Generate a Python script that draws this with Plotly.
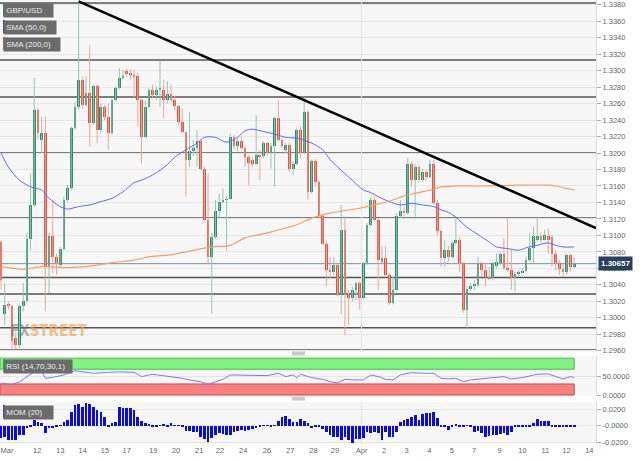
import plotly.graph_objects as go

# ---------------- data (GBP/USD 4h candles) ----------------
opens = [1.3092,1.3005,1.3017,1.3014,1.2975,1.2967,1.3014,1.3020,1.3096,
         1.3137,1.3252,1.3216,1.3224,1.3062,1.3099,1.3074,1.3064,1.3084,1.3143,
         1.3157,1.3230,1.3256,1.3289,1.3258,1.3273,1.3236,1.3281,1.3228,1.3256,
         1.3244,1.3224,1.3264,1.3279,1.3291,1.3299,1.3297,1.3295,1.3293,1.3264,
         1.3220,1.3256,1.3277,1.3270,1.3277,1.3277,1.3264,1.3272,1.3264,1.3257,
         1.3238,1.3225,1.3192,1.3202,1.3206,1.3214,1.3181,1.3119,1.3074,1.3098,
         1.3130,1.3140,1.3143,1.3144,1.3220,1.3208,1.3215,1.3206,1.3195,1.3192,
         1.3187,1.3198,1.3196,1.3212,1.3200,1.3208,1.3242,1.3216,1.3204,1.3210,
         1.3180,1.3187,1.3228,1.3200,1.3250,1.3153,1.3190,1.3165,1.3123,1.3090,
         1.3058,1.3055,1.3064,1.3028,1.3107,1.3028,1.3024,1.3034,1.3042,1.3024,
         1.3066,1.3113,1.3143,1.3119,1.3068,1.3072,1.3052,1.3018,1.3034,1.3123,
         1.3130,1.3127,1.3187,1.3167,1.3183,1.3167,1.3177,1.3171,1.3187,1.3139,1.3105,
         1.3072,1.3082,1.3074,1.3091,1.3095,1.3066,1.3010,1.3035,1.3039,1.3040,
         1.3066,1.3058,1.3050,1.3048,1.3063,1.3066,1.3078,1.3061,1.3058,1.3048,
         1.3053,1.3055,1.3057,1.3070,1.3085,1.3094,1.3099,1.3095,1.3099,1.3098,
         1.3078,1.3066,1.3059,1.3056,1.3076,1.3062]
highs = [1.3094,1.3042,1.3020,1.3016,1.2983,1.3016,1.3042,1.3103,1.3175,
         1.3291,1.3254,1.3244,1.3244,1.3103,1.3143,1.3078,1.3086,1.3147,1.3161,
         1.3232,1.3262,1.3384,1.3293,1.3293,1.3331,1.3283,1.3283,1.3260,1.3258,
         1.3260,1.3266,1.3281,1.3303,1.3301,1.3302,1.3301,1.3301,1.3297,1.3266,
         1.3264,1.3279,1.3283,1.3281,1.3312,1.3289,1.3287,1.3283,1.3270,1.3258,
         1.3254,1.3226,1.3250,1.3216,1.3228,1.3216,1.3183,1.3175,1.3103,1.3143,
         1.3151,1.3157,1.3147,1.3224,1.3222,1.3218,1.3220,1.3208,1.3198,1.3196,
         1.3246,1.3204,1.3214,1.3214,1.3212,1.3244,1.3264,1.3218,1.3212,1.3212,
         1.3190,1.3230,1.3232,1.3268,1.3252,1.3192,1.3192,1.3167,1.3125,1.3093,
         1.3074,1.3074,1.3066,1.3137,1.3123,1.3034,1.3038,1.3044,1.3044,1.3068,
         1.3115,1.3147,1.3147,1.3121,1.3087,1.3087,1.3054,1.3050,1.3127,1.3143,
         1.3135,1.3194,1.3190,1.3187,1.3185,1.3181,1.3179,1.3192,1.3192,1.3143,1.3107,
         1.3094,1.3087,1.3093,1.3123,1.3098,1.3068,1.3038,1.3042,1.3046,1.3074,
         1.3068,1.3066,1.3062,1.3068,1.3078,1.3080,1.3097,1.3123,1.3082,1.3056,
         1.3058,1.3060,1.3074,1.3103,1.3111,1.3123,1.3103,1.3107,1.3109,1.3101,
         1.3082,1.3070,1.3066,1.3078,1.3078,1.3074]
lows = [1.3034,1.2991,1.3010,1.2963,1.2962,1.2963,1.3008,1.3018,1.3082,
        1.3135,1.3216,1.3200,1.3008,1.3030,1.3054,1.3052,1.3062,1.3082,1.3141,
        1.3155,1.3228,1.3252,1.3254,1.3256,1.3208,1.3234,1.3212,1.3224,1.3240,
        1.3204,1.3222,1.3262,1.3277,1.3289,1.3292,1.3289,1.3268,1.3232,1.3187,
        1.3218,1.3254,1.3266,1.3264,1.3256,1.3242,1.3260,1.3262,1.3252,1.3234,
        1.3224,1.3147,1.3183,1.3196,1.3183,1.3179,1.3117,1.3066,1.3005,1.3096,
        1.3121,1.3139,1.3082,1.3143,1.3204,1.3202,1.3204,1.3183,1.3161,1.3183,
        1.3185,1.3167,1.3194,1.3196,1.3181,1.3159,1.3214,1.3206,1.3200,1.3177,
        1.3173,1.3185,1.3194,1.3198,1.3143,1.3151,1.3159,1.3121,1.3089,1.3038,
        1.3048,1.3052,1.3026,1.3004,1.2979,1.2991,1.3020,1.3022,1.3010,1.3022,
        1.3064,1.3111,1.3117,1.3034,1.3066,1.3050,1.3016,1.3016,1.3032,1.3121,
        1.3123,1.3125,1.3159,1.3123,1.3165,1.3165,1.3167,1.3169,1.3137,1.3100,1.3062,
        1.3062,1.3068,1.3072,1.3089,1.3056,1.3006,1.2987,1.3032,1.3034,1.3038,
        1.3050,1.3038,1.3046,1.3046,1.3060,1.3064,1.3058,1.3056,1.3034,1.3032,
        1.3050,1.3054,1.3056,1.3068,1.3066,1.3093,1.3091,1.3094,1.3078,1.3062,
        1.3058,1.3052,1.3050,1.3052,1.3056,1.3060]
closes = [1.3046,1.3016,1.3014,1.2972,1.2967,1.3014,1.3020,1.3096,1.3137,
          1.3252,1.3224,1.3224,1.3062,1.3099,1.3074,1.3066,1.3084,1.3143,1.3157,
          1.3230,1.3256,1.3289,1.3258,1.3273,1.3236,1.3281,1.3228,1.3256,1.3244,
          1.3224,1.3264,1.3279,1.3291,1.3294,1.3296,1.3295,1.3293,1.3264,1.3220,
          1.3256,1.3277,1.3270,1.3277,1.3279,1.3264,1.3272,1.3264,1.3257,1.3238,
          1.3225,1.3192,1.3202,1.3206,1.3214,1.3181,1.3119,1.3074,1.3098,1.3130,
          1.3140,1.3143,1.3144,1.3220,1.3208,1.3215,1.3206,1.3195,1.3188,1.3187,
          1.3198,1.3196,1.3212,1.3200,1.3208,1.3242,1.3216,1.3208,1.3210,1.3181,
          1.3187,1.3228,1.3200,1.3250,1.3153,1.3190,1.3165,1.3123,1.3090,1.3058,
          1.3055,1.3064,1.3028,1.3107,1.3028,1.3024,1.3034,1.3042,1.3024,1.3066,
          1.3113,1.3143,1.3119,1.3070,1.3072,1.3052,1.3018,1.3034,1.3123,1.3130,
          1.3127,1.3187,1.3167,1.3183,1.3167,1.3177,1.3171,1.3187,1.3139,1.3105,1.3072,
          1.3082,1.3074,1.3091,1.3095,1.3066,1.3010,1.3035,1.3039,1.3040,1.3066,
          1.3058,1.3050,1.3048,1.3066,1.3068,1.3078,1.3060,1.3058,1.3048,1.3053,
          1.3056,1.3057,1.3070,1.3085,1.3099,1.3099,1.3094,1.3100,1.3094,1.3078,
          1.3066,1.3059,1.3056,1.3076,1.3062,1.30657]

# SMA readings (candle index, value)
sma50_idx = [0,2,5,8,11,13,16,18,21,24,27,30,33,36,38,40,42,45,47,50,53,55,58,61,64,
             66,68,71,74,77,80,84,87,89,92,95,98,100,102,105,108,111,114,117,119,121,
             123,126,129,132,134,137,140,142,145,148,150,152,155]
sma50_val = [1.3200,1.3183,1.3167,1.3159,1.3155,1.3145,1.3135,1.3132,1.3135,1.3137,
             1.3141,1.3145,1.3153,1.3164,1.3167,1.3171,1.3176,1.3186,1.3195,1.3204,
             1.3212,1.3219,1.3219,1.3213,1.3219,1.3227,1.3229,1.3226,1.3223,1.3219,
             1.3218,1.3212,1.3204,1.3192,1.3179,1.3167,1.3155,1.3152,1.3147,1.3141,
             1.3137,1.3139,1.3137,1.3135,1.3131,1.3128,1.3122,1.3110,1.3101,1.3092,
             1.3086,1.3084,1.3082,1.3085,1.3088,1.3091,1.3088,1.3086,1.3086]
sma200_idx = [0,2,6,11,18,23,30,36,40,45,50,57,62,66,72,77,80,84,89,97,101,106,109,
              113,117,119,123,131,140,148,150,153,155]
sma200_val = [1.3062,1.3061,1.3059,1.3062,1.3061,1.3062,1.3067,1.3070,1.3074,1.3076,
              1.3080,1.3086,1.3088,1.3097,1.3103,1.3109,1.3113,1.3121,1.3127,1.3133,
              1.3137,1.3143,1.3148,1.3152,1.3156,1.3159,1.3160,1.3160,1.3161,1.3161,
              1.3160,1.3157,1.3155]

# RSI (14,70,30,1) readings
rsi_idx = [0,3,5,7,9,10,11,12,14,17,20,22,25,29,32,36,38,41,45,49,51,54,56,58,60,62,
           65,69,72,75,77,79,80,81,83,84,87,89,91,92,93,95,98,100,102,104,106,108,109,
           111,114,117,119,121,123,125,127,129,132,136,138,141,145,148,150,152,154,155]
rsi_val = [32,28,36,50,63.6,70,63.6,45.4,48,54.5,66,63.6,59,61.7,62.7,61.7,50,56.3,51.8,
           45.4,40.9,36,29,36,42.7,54.5,53.6,51.8,52.7,59,50,54.5,47.2,56.3,50,47.2,42.7,
           36,33,39,42.7,41,41,54.5,50,42.7,41,54.5,56.3,60.8,59,59,45.4,43.6,45.4,36,41,
           42.7,45.4,50,43.6,47.2,56.3,57.2,50,43.6,50,47.2]

# MOM (20) per candle
mom = [-0.0156,-0.0135,-0.0176,-0.0176,-0.0176,-0.0115,-0.0115,-0.0034,-0.0022,0.0067,
       0.0046,0.0034,-0.0095,-0.0034,-0.0034,-0.0006,0.0002,0.0046,0.0067,0.0168,
       0.0248,0.0257,0.0228,0.0269,0.0257,0.0228,0.0188,0.0168,0.0107,-0.0022,
       0.0026,0.0046,0.0228,0.0208,0.0216,0.0208,0.0188,0.0107,0.0055,0.0026,
       0.0018,-0.0006,-0.0006,0.0002,0.0018,-0.0006,0.0026,0.0002,-0.0002,-0.0006,
       -0.0063,-0.0063,-0.0075,-0.0075,-0.0135,-0.0168,-0.0196,-0.0156,-0.0115,-0.0095,
       -0.0103,-0.0115,-0.0115,-0.0075,-0.0063,-0.0055,-0.0063,-0.0055,-0.0042,-0.0026,
       -0.0006,-0.0002,0.0002,-0.0006,-0.0002,0.0055,0.0099,0.0115,0.0075,0.0046,
       0.0046,0.0075,0.0055,0.0026,-0.0034,-0.0022,-0.0022,-0.0046,-0.0075,-0.0115,
       -0.0135,-0.0135,-0.0176,-0.0143,-0.0176,-0.0208,-0.0168,-0.0168,-0.0156,-0.0075,
       -0.0087,-0.0075,-0.0087,-0.0176,-0.0075,-0.0135,-0.0135,-0.0075,0.0046,0.0067,
       0.0075,0.0107,0.0127,0.0067,0.0139,0.0156,0.0147,0.0164,0.0087,-0.0006,
       -0.0022,-0.0055,-0.0022,0.0018,-0.0006,-0.0022,0.0002,-0.0006,-0.0075,-0.0063,
       -0.0095,-0.0135,-0.0127,-0.0115,-0.0111,-0.0107,-0.0095,-0.0115,-0.0075,-0.0022,
       -0.0014,-0.0018,-0.0014,-0.0010,0.0034,0.0075,0.0059,0.0059,0.0055,-0.0006,
       -0.0006,-0.0006,-0.0006,-0.0006,-0.0006,-0.0010]

# support / resistance levels and trend line
levels = [1.3382, 1.3313, 1.3268, 1.3200, 1.3121, 1.3049, 1.3029, 1.2988, 1.2961]
trend_idx = [21, 160.9]
trend_val = [1.3384, 1.3109]
last_price = 1.30657

# date labels (candle index where each label sits)
tick_labels = ["Mar","12","13","14","15","17","19","20","21","22","24","26","27","28",
               "29","Apr","2","3","4","5","7","9","10","11","12","14"]
tick_idx = [1.6,9.8,16.0,22.1,28.1,34.0,41.2,47.3,53.6,59.2,65.5,71.9,78.2,84.5,
            90.3,97.5,103.6,109.7,115.8,121.9,127.9,134.8,141.0,147.2,152.9,159.1]

# ---------------- figure ----------------
N = len(closes)
idx = list(range(N))
highs = [max(h, o, c) for h, o, c in zip(highs, opens, closes)]
lows = [min(l, o, c) for l, o, c in zip(lows, opens, closes)]

UP, UP_W = "#2e8b6c", "#93c6b2"
DN, DN_W = "#e0553d", "#efa596"
FONT = "Liberation Sans"
W, H_PLOT = 596.0, 444.0

fig = go.Figure()

# wicks
for up in (True, False):
    xs, ys = [], []
    for i in idx:
        if (closes[i] >= opens[i]) == up:
            xs += [i, i, None]
            ys += [lows[i], highs[i], None]
    fig.add_trace(go.Scatter(x=xs, y=ys, mode="lines", line=dict(color=UP_W if up else DN_W, width=1),
                             hoverinfo="skip", yaxis="y"))

# bodies
body_base = [min(o, c) for o, c in zip(opens, closes)]
body_h = [max(abs(c - o), 0.00005) for o, c in zip(opens, closes)]
body_col = [UP if c >= o else DN for o, c in zip(opens, closes)]
fig.add_trace(go.Bar(x=idx, y=body_h, base=body_base, marker=dict(color=body_col, line_width=0),
                     width=0.74, yaxis="y"))

# moving averages
fig.add_trace(go.Scatter(x=sma50_idx, y=sma50_val, mode="lines",
                         line=dict(color="#5a6cf5", width=1, shape="spline", smoothing=0.8), yaxis="y"))
fig.add_trace(go.Scatter(x=sma200_idx, y=sma200_val, mode="lines",
                         line=dict(color="#f0a064", width=1.2, shape="spline", smoothing=0.8), yaxis="y"))

# trend line
fig.add_trace(go.Scatter(x=trend_idx, y=trend_val, mode="lines", line=dict(color="black", width=2.5), yaxis="y"))

# RSI
fig.add_trace(go.Scatter(x=rsi_idx, y=rsi_val, mode="lines", line=dict(color="#6f80f5", width=1), yaxis="y2"))

# MOM
fig.add_trace(go.Bar(x=idx, y=mom, marker=dict(color="#0a0af0", line_width=0), width=0.72, yaxis="y3"))

shapes = []
for lv in levels:
    shapes.append(dict(type="line", xref="x domain", yref="y", x0=0, x1=1, y0=lv, y1=lv,
                       line=dict(color="#555555", width=1.5), layer="below"))
shapes.append(dict(type="line", xref="x domain", yref="y", x0=0, x1=1, y0=last_price, y1=last_price,
                   line=dict(color="#7d8cab", width=1), layer="below"))
for yr in ("y domain", "y3 domain"):
    shapes.append(dict(type="line", xref="x", yref=yr, x0=97.5, x1=97.5, y0=0, y1=1,
                       line=dict(color="#e2e2e2", width=1), layer="below"))
shapes.append(dict(type="rect", xref="x", yref="y2", x0=-0.27, x1=N - 1, y0=70, y1=100,
                   fillcolor="#80f27e", line=dict(color="#4fb84d", width=1), layer="below"))
shapes.append(dict(type="rect", xref="x", yref="y2", x0=-0.27, x1=N - 1, y0=0, y1=30,
                   fillcolor="#fa8080", line=dict(color="#b85050", width=1), layer="below"))
for py in (353.5, 398.5):
    shapes.append(dict(type="rect", xref="paper", yref="paper", x0=292 / W, x1=305 / W,
                       y0=1 - (py + 2) / H_PLOT, y1=1 - (py - 2) / H_PLOT,
                       fillcolor="#c9c9c9", line_width=0))

annotations = []


def label(px, py, text, w, stripe):
    annotations.append(dict(xref="paper", yref="paper", x=px / W, y=1 - py / H_PLOT,
                            xanchor="left", yanchor="top", text=text, showarrow=False,
                            bgcolor="#6b6b6b", font=dict(family=FONT, size=8, color="#ececec"),
                            width=w, height=13, align="left", borderpad=0))
    shapes.append(dict(type="rect", xref="paper", yref="paper", x0=px / W, x1=(px + 2) / W,
                       y0=1 - (py + 13) / H_PLOT, y1=1 - py / H_PLOT, fillcolor=stripe, line_width=0))


label(3, 3, " GBP/USD", 49, "#2e8b6c")
label(3, 20, " SMA (50,0)", 52, "#2233ee")
label(3, 37, " SMA (200,0)", 56, "#e06a2a")
label(3, 359, " RSI (14,70,30,1)", 68, "#33cc33")
label(3, 405, " MOM (20)", 49, "#2233ee")

# watermark
annotations.append(dict(xref="paper", yref="paper", x=8 / W, y=1 - 320 / H_PLOT, xanchor="left", yanchor="top",
                        showarrow=False, font=dict(family="DejaVu Sans Condensed", size=15),
                        text="<b><span style='color:rgba(115,115,115,0.55)'>FX</span>"
                             "<span style='color:rgba(242,165,80,0.7)'>STREET</span></b>"))

# last price tag
annotations.append(dict(xref="paper", yref="y", x=598 / W, y=last_price, xanchor="left", yanchor="middle",
                        text="<b>1.30657</b>", showarrow=False, bgcolor="#2b3f5e",
                        font=dict(family=FONT, size=8, color="white"), borderpad=2))

tickfont = dict(family=FONT, size=7.5, color="#666")
price_ticks = [round(1.2960 + 0.002 * k, 4) for k in range(22)]
common_y = dict(side="right", anchor="x", gridcolor="#e6e6e6", zeroline=False, ticks="outside", ticklen=4,
                tickcolor="#aaaaaa", showline=True, linecolor="#d6dce8", tickfont=tickfont, automargin=False,
                fixedrange=True)

fig.update_layout(
    width=640, height=460,
    margin=dict(l=0, r=44, t=0, b=16, autoexpand=False),
    paper_bgcolor="white", plot_bgcolor="#f7f7f7",
    showlegend=False, barmode="overlay", bargap=0,
    shapes=shapes, annotations=annotations,
    xaxis=dict(range=[-0.27, 160.9], tickvals=tick_idx, ticktext=tick_labels, showgrid=False,
               zeroline=False, anchor="y3", tickfont=tickfont, ticks="", fixedrange=True, automargin=False,
               ticklabeloverflow="allow"),
    yaxis=dict(domain=[0.2072, 1], range=[1.29585, 1.33857], tickvals=price_ticks, tickformat=".4f", **common_y),
    yaxis2=dict(domain=[0.1081, 0.1982], range=[-2.7, 106], tickvals=[0, 50],
                ticktext=["0.0000", "50.0000"], **common_y),
    yaxis3=dict(domain=[0, 0.0946], range=[-0.0224, 0.0285], tickvals=[-0.02, 0, 0.02],
                ticktext=["-0.0200", "-0.0000", "0.0200"], **common_y),
)

fig.write_html("out.html", config={"displayModeBar": False},
               post_script="document.body.style.margin='0px';document.body.style.padding='0px';")
